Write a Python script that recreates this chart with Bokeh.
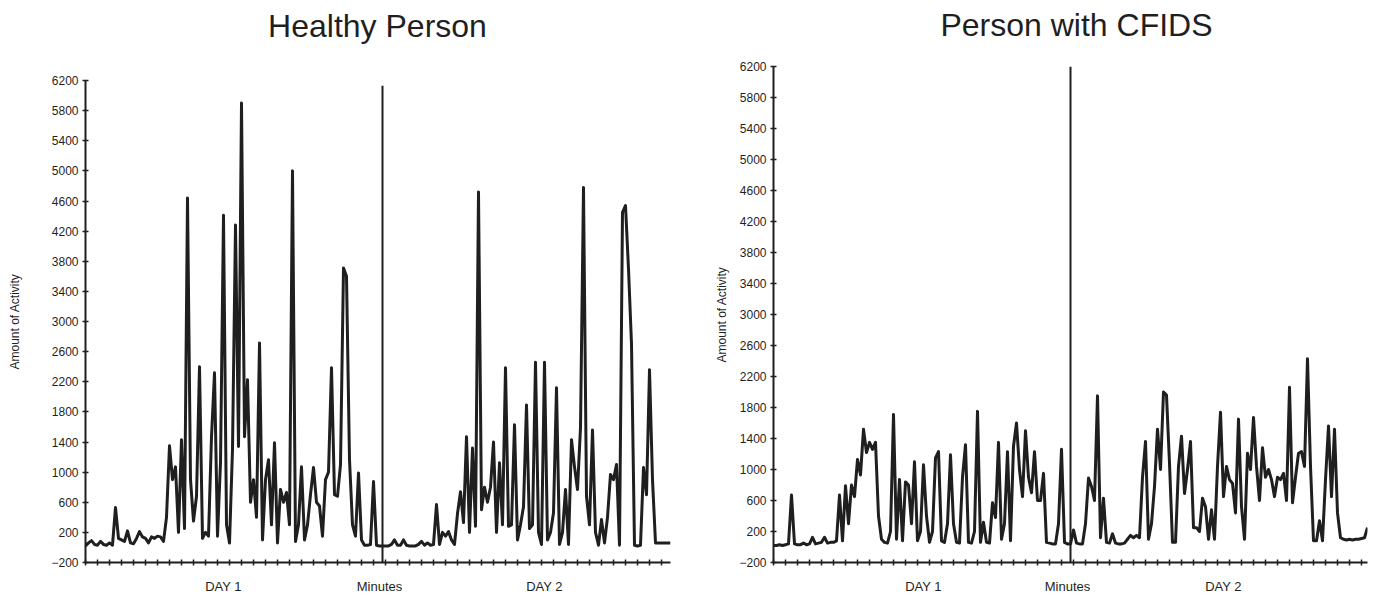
import numpy as np
from bokeh.plotting import figure
from bokeh.layouts import row
from bokeh.models import Range1d, FixedTicker, Label
from bokeh.embed import file_html
from bokeh.resources import INLINE

# ---- data (activity counts per sample) ----
healthy_activity = [
    20, 60, 90, 40, 30, 80, 40, 30, 60, 30,
    530, 120, 100, 80, 220, 60, 50, 120, 210, 140,
    120, 60, 140, 120, 150, 140, 80, 400, 1350, 900,
    1070, 200, 1430, 250, 4640, 900, 350, 680, 2400, 120,
    200, 150, 1470, 2320, 150, 1125, 4410, 300, 60, 1300,
    4280, 1340, 5900, 1470, 2225, 600, 900, 400, 2715, 100,
    900, 1165, 300, 1390, 60, 770, 600, 730, 300, 5000,
    80, 300, 1070, 100, 300, 700, 1060, 600, 550, 150,
    900, 1000, 2385, 700, 680, 1100, 3710, 3600, 1165, 300,
    150, 990, 100, 30, 30, 40, 875, 30, 20, 20,
    20, 20, 40, 100, 30, 30, 100, 30, 20, 20,
    20, 40, 80, 30, 60, 30, 40, 570, 40, 200,
    150, 210, 100, 40, 450, 740, 330, 1470, 200, 1320,
    280, 4720, 500, 800, 600, 800, 1400, 200, 1125, 300,
    2385, 280, 300, 1630, 100, 300, 540, 1890, 250, 300,
    2460, 200, 40, 2460, 100, 200, 460, 2120, 40, 200,
    770, 40, 1430, 1070, 770, 1590, 4780, 680, 300, 1560,
    200, 30, 370, 60, 400, 970, 900, 1100, 30, 4450,
    4540, 3700, 2700, 30, 20, 30, 1060, 700, 2360, 900,
    60, 60, 60, 60, 60, 60,
]

cfids_activity = [
    20, 20, 30, 20, 30, 40, 670, 40, 30, 30,
    50, 30, 40, 125, 40, 50, 60, 125, 50, 60,
    60, 80, 670, 80, 790, 300, 800, 650, 1130, 930,
    1520, 1220, 1350, 1260, 1350, 400, 100, 60, 50, 200,
    1710, 100, 870, 80, 840, 800, 300, 1100, 80, 200,
    1060, 400, 60, 200, 1150, 1230, 80, 60, 300, 1190,
    300, 60, 50, 900, 1320, 60, 50, 200, 1750, 60,
    320, 60, 50, 570, 380, 1350, 100, 300, 1230, 80,
    1300, 1600, 1000, 650, 1500, 900, 700, 1230, 600, 600,
    950, 60, 50, 40, 40, 300, 1260, 60, 40, 40,
    220, 50, 40, 40, 300, 890, 780, 600, 1950, 120,
    630, 60, 50, 170, 50, 40, 40, 50, 100, 150,
    120, 150, 120, 900, 1360, 100, 300, 780, 1520, 1000,
    2000, 1960, 1080, 60, 60, 1040, 1430, 690, 1000, 1360,
    250, 250, 200, 630, 520, 100, 480, 100, 1040, 1740,
    650, 1040, 870, 820, 440, 1650, 520, 100, 1210, 1000,
    1670, 1040, 600, 1280, 900, 1000, 870, 650, 900, 870,
    950, 600, 2060, 570, 900, 1210, 1230, 1040, 2430, 1040,
    80, 80, 340, 80, 870, 1560, 650, 1520, 440, 120,
    100, 90, 100, 90, 100, 100, 110, 120, 250,
]

y_tick_values = list(range(-200, 6201, 400))
x_tick_labels = ["DAY 1", "Minutes", "DAY 2"]
healthy_label_pos = [46, 98, 153]
cfids_label_pos = [50, 98, 150]
midnight_index = [99, 99]        # sample where day 1 ends
midnight_top = [6130, 6200]      # height of the midnight marker line

INK = "#1f1f1f"
FONT = "Liberation Sans"


def make_panel(title, values, label_pos, sep_x, sep_top, width,
               b_left, b_right, b_top, b_bottom, title_pos,
               ylabel_standoff):
    n = len(values)
    p = figure(width=width, height=600, output_backend="svg",
               toolbar_location=None,
               x_range=Range1d(0, n - 1), y_range=Range1d(-200, 6200),
               min_border_left=b_left, min_border_right=b_right,
               min_border_top=b_top, min_border_bottom=b_bottom)
    p.frame_align = False

    p.add_layout(Label(x=title_pos[0], y=title_pos[1], x_units="screen",
                       y_units="screen", text=title, text_align="center",
                       text_baseline="middle", text_font=FONT,
                       text_font_size="32px", text_color=INK), "above")

    p.outline_line_color = None
    p.xgrid.grid_line_color = None
    p.ygrid.grid_line_color = None
    p.background_fill_color = "white"
    p.border_fill_color = "white"

    # y axis
    p.yaxis.ticker = FixedTicker(ticks=y_tick_values)
    p.yaxis.axis_label = "Amount of Activity"
    p.yaxis.axis_label_text_font = FONT
    p.yaxis.axis_label_text_font_size = "12px"
    p.yaxis.axis_label_text_font_style = "normal"
    p.yaxis.axis_label_text_color = INK
    p.yaxis.axis_label_standoff = ylabel_standoff
    p.yaxis.major_label_text_font = FONT
    p.yaxis.major_label_text_font_size = "12px"
    p.yaxis.major_label_text_color = INK
    p.yaxis.major_label_standoff = 4
    p.yaxis.major_tick_in = 3
    p.yaxis.major_tick_out = 3
    p.yaxis.major_tick_line_width = 1.5
    p.yaxis.major_tick_line_color = INK
    p.yaxis.minor_tick_line_color = None
    p.yaxis.axis_line_width = 2
    p.yaxis.axis_line_color = INK

    # x axis
    p.xaxis.ticker = FixedTicker(ticks=label_pos,
                                 minor_ticks=list(range(0, n, 4)))
    p.xaxis.major_label_overrides = dict(zip(label_pos, x_tick_labels))
    p.xaxis.major_label_text_font = FONT
    p.xaxis.major_label_text_font_size = "13px"
    p.xaxis.major_label_text_color = INK
    p.xaxis.major_label_standoff = 13
    p.xaxis.major_tick_in = 0
    p.xaxis.major_tick_out = 0
    p.xaxis.minor_tick_in = 3
    p.xaxis.minor_tick_out = 3
    p.xaxis.minor_tick_line_width = 1.5
    p.xaxis.minor_tick_line_color = INK
    p.xaxis.axis_line_width = 2
    p.xaxis.axis_line_color = INK

    p.line(x=np.arange(n), y=values, line_width=3, line_color=INK,
           line_join="round")
    p.segment(x0=[sep_x], y0=[-200], x1=[sep_x], y1=[sep_top],
              line_width=2, line_color=INK)
    return p


p1 = make_panel("Healthy Person", healthy_activity, healthy_label_pos,
                midnight_index[0], midnight_top[0], 696, 85, 26, 80, 38,
                (292, 55), 26)
p2 = make_panel("Person with CFIDS", cfids_activity, cfids_label_pos,
                midnight_index[1], midnight_top[1], 680, 77, 9, 66, 38,
                (303, 42), 7)

layout = row(p1, p2)
open("out.html", "w").write(file_html(layout, INLINE))
